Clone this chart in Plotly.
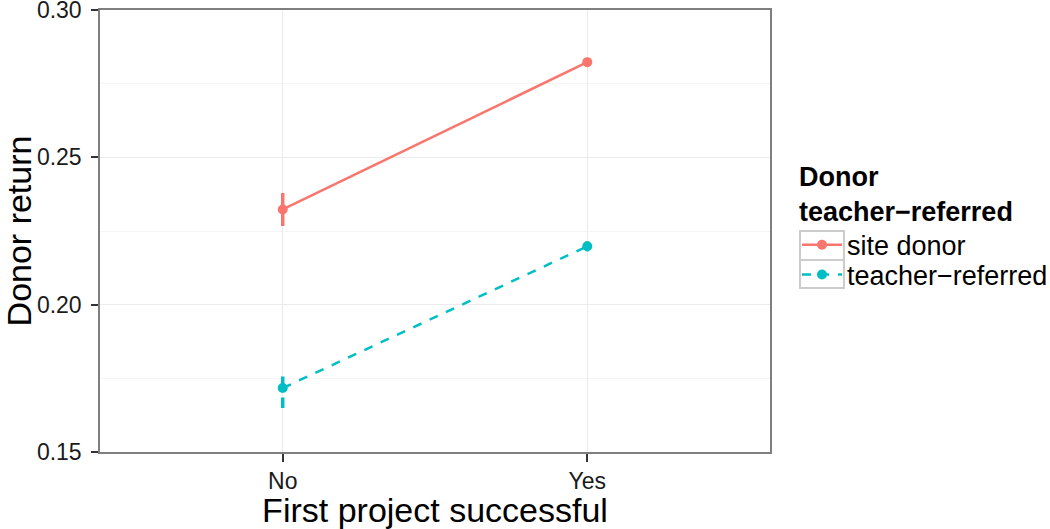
import plotly.graph_objects as go

categories = ["No", "Yes"]
site_mean = [0.2323, 0.2823]
site_err = [0.0056, 0.0014]
teacher_mean = [0.1717, 0.2198]
teacher_err = [0.0068, 0.0017]

series = [
    ("site donor", site_mean, site_err, "#F8766D", "solid", "legend"),
    ("teacher\u2212referred", teacher_mean, teacher_err, "#00BFC4", "dash", "legend2"),
]

font = "Liberation Sans, Arial, sans-serif"
fig = go.Figure()

for name, mean, err, color, dash, leg in series:
    # error bars as plain vertical segments so they can be dashed
    for cat, m, e in zip(categories, mean, err):
        fig.add_trace(go.Scatter(
            x=[cat, cat], y=[m - e, m + e], mode="lines",
            line=dict(color=color, width=3.5, dash=dash),
            showlegend=False, hoverinfo="skip",
        ))
    fig.add_trace(go.Scatter(
        x=categories, y=mean, mode="lines+markers", name=name, legend=leg,
        line=dict(color=color, width=2.5, dash=dash),
        marker=dict(color=color, size=10),
    ))

# grey key boxes like ggplot's legend keys
for y0, y1 in [(0.4344, 0.5), (0.371, 0.4344)]:
    fig.add_shape(type="rect", xref="paper", yref="paper",
                  x0=1.0448, x1=1.1104, y0=y0, y1=y1,
                  line=dict(color="#CCCCCC", width=2), layer="below")

leg_common = dict(font=dict(size=27), x=1.0403, xanchor="left",
                  itemwidth=40, bgcolor="rgba(0,0,0,0)", borderwidth=0)

fig.update_layout(
    width=1050, height=529,
    margin=dict(l=100, r=280, t=10, b=77, autoexpand=False),
    plot_bgcolor="white", paper_bgcolor="white",
    font=dict(family=font, color="black"),
    showlegend=True,
    legend=dict(
        title=dict(text="<b>Donor<br>teacher\u2212referred</b>", font=dict(size=27)),
        y=0.682, yanchor="top", **leg_common,
    ),
    legend2=dict(y=0.4005, yanchor="middle", **leg_common),
    xaxis=dict(
        type="category", range=[-0.6, 1.6], automargin=False,
        showgrid=True, gridcolor="#EBEBEB", gridwidth=1,
        showline=True, linecolor="#7F7F7F", linewidth=1.5, mirror=True,
        ticks="outside", ticklen=8, tickcolor="#333333", tickwidth=2,
        ticklabelstandoff=0, ticklabeloverflow="allow",
        tickfont=dict(size=23, color="#1a1a1a"),
        title=dict(text="First project successful", font=dict(size=34), standoff=1),
        zeroline=False,
    ),
    yaxis=dict(
        range=[0.15, 0.30], automargin=False,
        tickvals=[0.15, 0.20, 0.25, 0.30],
        ticktext=["0.15", "0.20", "0.25", "0.30"],
        showgrid=True, gridcolor="#EBEBEB", gridwidth=1,
        minor=dict(tickvals=[0.175, 0.225, 0.275], showgrid=True,
                   gridcolor="#F5F5F5", gridwidth=1, ticks=""),
        showline=True, linecolor="#7F7F7F", linewidth=1.5, mirror=True,
        ticks="outside", ticklen=7, tickcolor="#333333", tickwidth=2,
        ticklabelstandoff=5, ticklabeloverflow="allow",
        tickfont=dict(size=23, color="#1a1a1a"),
        title=dict(text="Donor return", font=dict(size=34), standoff=14),
        zeroline=False,
    ),
)

fig.write_html("out.html", config={"displayModeBar": False},
               post_script="document.body.style.margin='0';")
